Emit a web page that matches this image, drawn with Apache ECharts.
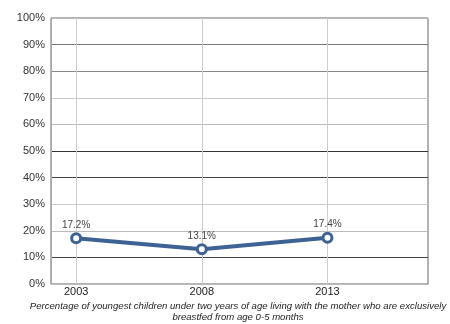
<!DOCTYPE html>
<html>
<head>
<meta charset="utf-8">
<script src="https://cdn.jsdelivr.net/npm/echarts@6/dist/echarts.min.js"></script>
<style>html,body{margin:0;padding:0;background:#fff}#c{width:450px;height:324px}</style>
</head>
<body>
<div id="c"></div>
<script>
const years = ['2002','2003','2004','2005','2006','2007','2008','2009','2010','2011','2012','2013','2014','2015','2016','2017'];
const labelYears = ['2003','2008','2013'];
const surveyYears = ['2003','2008','2013'];
const values = [17.2, 13.1, 17.4];
const captionLines = [
  'Percentage of youngest children under two years of age living with the mother who are exclusively',
  'breastfed from age 0-5 months'
];

const chart = echarts.init(document.getElementById('c'), null, {renderer: 'canvas'});
const showYear = (i, v) => labelYears.includes(v);
chart.setOption({
  animation: false,
  grid: {left: 51, right: 22, top: 18, bottom: 40, show: true, borderColor: '#666', borderWidth: 1, backgroundColor: 'transparent'},
  xAxis: {
    type: 'category',
    data: years,
    boundaryGap: false,
    axisLine: {lineStyle: {color: '#bbb', width: 1}},
    axisTick: {show: false},
    axisLabel: {interval: showYear, color: '#222', fontSize: 11, fontFamily: 'Liberation Sans, Arial', margin: 2},
    splitLine: {show: true, interval: showYear, lineStyle: {color: '#ccc', width: 1}}
  },
  yAxis: {
    type: 'value',
    min: 0, max: 100, interval: 10,
    axisLine: {show: true, lineStyle: {color: '#aaa', width: 1}},
    axisTick: {show: false},
    axisLabel: {formatter: '{value}%', color: '#333', fontSize: 11, fontFamily: 'Liberation Sans, Arial', margin: 6},
    splitLine: {show: true, lineStyle: {width: 1, color: ['#bbb','#444','#bbb','#ccc','#444','#333','#bbb','#ccc','#888','#777','#bbb']}}
  },
  series: [{
    type: 'line',
    data: surveyYears.map((y, i) => [y, values[i]]),
    symbol: 'circle',
    symbolSize: 9,
    lineStyle: {color: '#3d6293', width: 4},
    itemStyle: {color: '#fff', borderColor: '#3d6293', borderWidth: 3},
    label: {show: true, position: 'top', distance: 2, color: '#444', fontSize: 10, fontFamily: 'Liberation Sans, Arial',
      formatter: p => p.value[1].toFixed(1) + '%'}
  }],
  graphic: captionLines.map((t, i) => ({
    type: 'text', x: 238, y: 306 + i * 11,
    style: {text: t, textAlign: 'center', textVerticalAlign: 'middle', fill: '#222', font: 'italic 9.6px "Liberation Sans", Arial'}
  }))
});
</script>
</body>
</html>
